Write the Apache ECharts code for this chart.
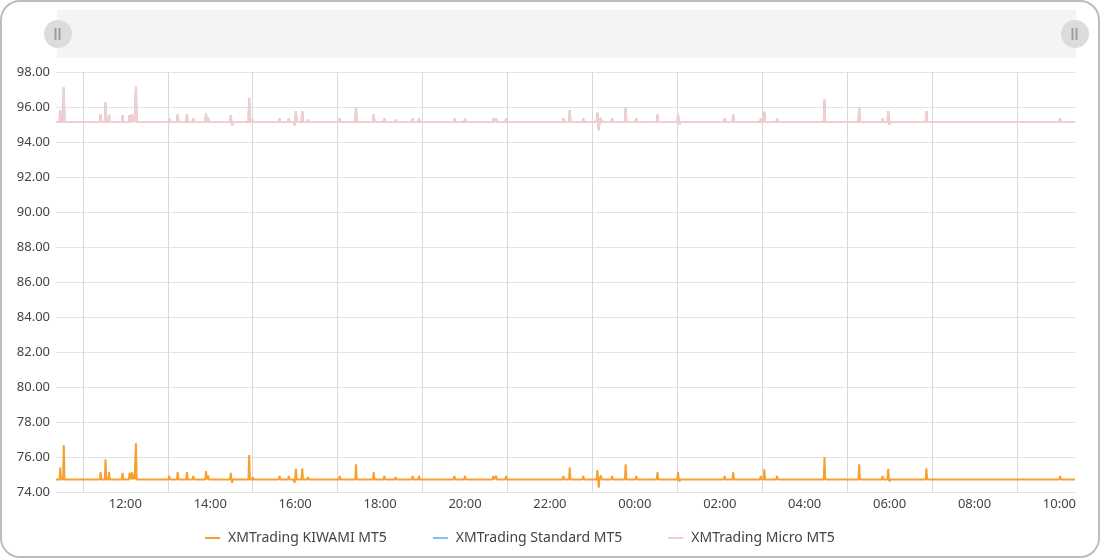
<!DOCTYPE html>
<html><head><meta charset="utf-8">
<script src="https://cdn.jsdelivr.net/npm/echarts@6/dist/echarts.min.js"></script>
<style>
html,body{margin:0;padding:0;background:#fff;}
#wrap{position:relative;width:1100px;height:558px;}
#chart{width:1100px;height:558px;}
#frame{position:absolute;left:0;top:0;width:1100px;height:558px;box-sizing:border-box;border:2px solid #bdbdbd;border-radius:20px;pointer-events:none;}
</style></head><body>
<div id="wrap"><div id="chart"></div><div id="frame"></div></div>
<script>
// ---- data ----
const seriesNames = ['XMTrading KIWAMI MT5', 'XMTrading Standard MT5', 'XMTrading Micro MT5'];
const startTime = '10:22';           // day 1
const endTime = '10:22';             // day 2
const spikeTimes = ['10:28','10:33','11:25','11:32','11:37','11:56','12:06','12:09','12:12','12:15',
  '13:02','13:14','13:27','13:36','13:54','13:57','14:29','14:31','14:55','15:00',
  '15:38','15:51','15:59','16:01','16:10','16:18','17:03','17:26','17:51','18:06',
  '18:22','18:46','18:55','19:45','20:00','20:40','20:44','20:58','22:19','22:28',
  '22:47','23:07','23:09','23:12','23:28','23:47','00:02','00:32','01:01','01:03',
  '02:07','02:19','02:58','03:03','03:21','03:23','04:28','05:17','05:50','05:58',
  '06:00','06:52','10:01'];
const kiwamiBase = 74.72;
const kiwamiSpikes = [75.39,76.69,75.14,75.87,75.14,75.10,75.10,75.14,75.00,76.78,
  74.91,75.14,75.14,74.91,75.20,74.95,75.10,74.53,76.11,74.85,
  74.91,74.91,74.53,75.33,75.35,74.85,74.91,75.58,75.14,74.91,
  74.85,74.91,74.91,74.91,74.91,74.91,74.91,74.91,74.91,75.39,
  74.91,75.25,74.25,74.95,74.91,75.58,74.91,75.14,75.14,74.60,
  74.91,75.14,74.91,75.30,74.91,74.62,76.00,75.58,74.91,75.33,
  74.60,75.35,74.91];
const standardBase = 95.14;
const standardSpikes = [95.81,97.11,95.56,96.29,95.56,95.52,95.52,95.56,95.42,97.20,
  95.33,95.56,95.56,95.33,95.62,95.37,95.52,94.95,96.53,95.27,
  95.33,95.33,94.95,95.75,95.77,95.27,95.33,96.00,95.56,95.33,
  95.27,95.33,95.33,95.33,95.33,95.33,95.33,95.33,95.33,95.81,
  95.33,95.67,94.67,95.37,95.33,96.00,95.33,95.56,95.56,95.02,
  95.33,95.56,95.33,95.72,95.33,95.04,96.42,96.00,95.33,95.75,
  95.02,95.77,95.33];
const microBase = 95.14;
const microSpikes = [95.81,97.11,95.56,96.29,95.56,95.52,95.52,95.56,95.42,97.20,
  95.33,95.56,95.56,95.33,95.62,95.37,95.52,94.95,96.53,95.27,
  95.33,95.33,94.95,95.75,95.77,95.27,95.33,96.00,95.56,95.33,
  95.27,95.33,95.33,95.33,95.33,95.33,95.33,95.33,95.33,95.81,
  95.33,95.67,94.67,95.37,95.33,96.00,95.33,95.56,95.56,95.02,
  95.33,95.56,95.33,95.72,95.33,95.04,96.42,96.00,95.33,95.75,
  95.02,95.77,95.33];
const yMin = 74, yMax = 98, yStep = 2;
const labelStepHours = 2;   // labels at even hours, grid lines at odd hours
const colors = ['#f7a031', '#7fc3e6', '#f6cdcd'];

// ---- helpers (x measured in hours since midnight of day 1) ----
function hm(s) { const p = s.split(':'); return (+p[0]) + (+p[1]) / 60; }
const H0 = hm(startTime);
const H1 = hm(endTime) + 24;
function hx(s) { const h = hm(s); return h < H0 ? h + 24 : h; }
const ONE_MIN = 1 / 60;
function build(base, vals) {
  const d = [[H0, base]];
  spikeTimes.forEach((s, i) => {
    const t = hx(s);
    d.push([t - ONE_MIN, base], [t, vals[i]], [t + ONE_MIN, base]);
  });
  d.push([H1, base]);
  return d;
}
function fmtHour(v) {
  const h = Math.round(v) % 24;
  return (h < 10 ? '0' : '') + h + ':00';
}
const FONT = 'Noto Sans';
const chart = echarts.init(document.getElementById('chart'), null, { renderer: 'canvas' });
chart.setOption({
  animation: false,
  textStyle: { fontFamily: FONT },
  color: colors,
  grid: { left: 56, right: 25, top: 72, bottom: 66, containLabel: false },
  legend: {
    bottom: 8, left: 200, itemGap: 46, itemWidth: 15, itemHeight: 14,
    icon: 'path://M0,0H15V2H0Z',
    textStyle: { fontFamily: FONT, fontSize: 14, color: '#444', padding: [0, 0, 0, 3] },
    data: seriesNames
  },
  dataZoom: [
    {
      type: 'slider', xAxisIndex: [0], start: 0, end: 100,
      left: 56, right: 25, top: 10, height: 48,
      showDetail: false, showDataShadow: false, brushSelect: false,
      moveHandleSize: 0,
      backgroundColor: '#f4f4f4', borderColor: 'rgba(0,0,0,0)',
      fillerColor: 'rgba(0,0,0,0)',
      handleIcon: 'circle', handleSize: 28,
      handleStyle: { color: '#dcdcdc', borderWidth: 0 },
      z: 4
    },
    {
      type: 'slider', xAxisIndex: [0], start: 0, end: 100,
      left: 56, right: 25, top: 10, height: 48,
      showDetail: false, showDataShadow: false, brushSelect: false,
      moveHandleSize: 0,
      backgroundColor: 'rgba(0,0,0,0)', borderColor: 'rgba(0,0,0,0)',
      fillerColor: 'rgba(0,0,0,0)',
      handleIcon: 'path://M0,0H2V12H0Z M4,0H6V12H4Z', handleSize: 12,
      handleStyle: { color: '#9e9e9e', borderWidth: 0 },
      z: 6
    }
  ],
  xAxis: [
    {
      type: 'value', min: H0, max: H1,
      minInterval: labelStepHours, maxInterval: labelStepHours,
      axisLine: { show: false }, axisTick: { show: false },
      splitLine: { show: false },
      axisLabel: {
        formatter: fmtHour, color: '#444', fontSize: 13, fontFamily: FONT,
        margin: 6, showMinLabel: false, showMaxLabel: false
      }
    },
    {
      // same span shifted by one hour: its even-hour ticks fall on the odd hours
      type: 'value', min: H0 - 1, max: H1 - 1, position: 'bottom',
      minInterval: labelStepHours, maxInterval: labelStepHours,
      axisLine: { show: false }, axisTick: { show: false },
      axisLabel: { show: false },
      splitLine: { show: true, showMinLine: false, showMaxLine: false,
        lineStyle: { color: '#d9d9d9', width: 1 } }
    }
  ],
  yAxis: {
    type: 'value', min: yMin, max: yMax, interval: yStep,
    axisLine: { show: false }, axisTick: { show: false },
    axisLabel: { formatter: v => v.toFixed(2), color: '#444', fontSize: 13, fontFamily: FONT, margin: 6 },
    splitLine: { lineStyle: { color: '#e2e2e2' } }
  },
  series: [
    { name: seriesNames[0], type: 'line', xAxisIndex: 0, symbol: 'none', data: build(kiwamiBase, kiwamiSpikes), lineStyle: { width: 2 } },
    { name: seriesNames[1], type: 'line', xAxisIndex: 0, symbol: 'none', data: build(standardBase, standardSpikes), lineStyle: { width: 2 } },
    { name: seriesNames[2], type: 'line', xAxisIndex: 0, symbol: 'none', data: build(microBase, microSpikes), lineStyle: { width: 2 } }
  ]
});
</script>
</body></html>
